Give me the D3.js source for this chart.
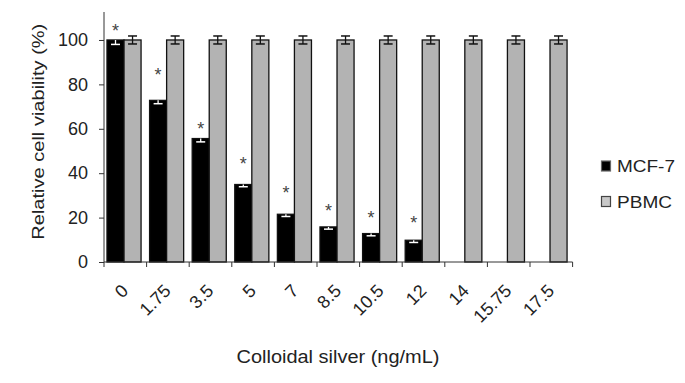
<!DOCTYPE html>
<html>
<head>
<meta charset="utf-8">
<script src="https://cdn.jsdelivr.net/npm/d3@7"></script>
<style>
  body { margin: 0; background: #fff; }
  svg { display: block; font-family: Arial, "Liberation Sans", sans-serif; }
</style>
</head>
<body>
<svg width="685" height="383"></svg>
<script>
// concentrations (ng/mL)
const categories = ["0", "1.75", "3.5", "5", "7", "8.5", "10.5", "12", "14", "15.75", "17.5"];
const seriesNames = ["MCF-7", "PBMC"];
const mcf7 = [100, 72.8, 55.6, 34.9, 21.5, 15.8, 12.8, 9.8, null, null, null];
const mcf7Err = [2, 1.5, 1.5, 1, 1, 1, 1, 1, null, null, null];
const pbmc = [100, 100, 100, 100, 100, 100, 100, 100, 100, 100, 100];
const pbmcErr = [1.8, 1.8, 1.8, 1.8, 1.8, 1.8, 1.8, 1.8, 1.8, 1.8, 1.8];
// level (in %) where the significance asterisk sits above each MCF-7 bar
const starLevel = [106, 86, 62, 46, 33, 25, 22, 19.5, null, null, null];
const yTicks = [0, 20, 40, 60, 80, 100];

const svg = d3.select("svg");
const width = +svg.attr("width");
const height = +svg.attr("height");
svg.append("rect").attr("width", width).attr("height", height).attr("fill", "#fff");

const plotLeft = 104, plotRight = 572.6, plotTop = 12, plotBottom = 262;

const x0 = d3.scaleBand()
  .domain(categories)
  .range([plotLeft, plotRight])
  .paddingInner(0.2)
  .paddingOuter(0.1)
  .align(0.35);
const x1 = d3.scaleBand().domain(seriesNames).range([0, x0.bandwidth()]);
// tick marks sit on category boundaries
const xEdge = d3.scaleLinear().domain([0, categories.length]).range([plotLeft, plotRight]);
const y = d3.scaleLinear().domain([0, 112.6]).range([plotBottom, plotTop]);

const colors = { "MCF-7": "#000", "PBMC": "#b3b3b3" };

const rows = categories.map((c, i) => ({
  cat: c,
  values: [
    { key: "MCF-7", v: mcf7[i], e: mcf7Err[i] },
    { key: "PBMC", v: pbmc[i], e: pbmcErr[i] }
  ],
  star: starLevel[i]
}));

const groups = svg.append("g").selectAll("g")
  .data(rows)
  .enter()
  .append("g")
  .attr("transform", (d) => `translate(${x0(d.cat)},0)`);

groups.selectAll("rect")
  .data((d) => d.values.filter((s) => s.v != null))
  .enter()
  .append("rect")
  .attr("x", (d) => x1(d.key))
  .attr("y", (d) => y(d.v))
  .attr("width", x1.bandwidth())
  .attr("height", (d) => y(0) - y(d.v))
  .attr("fill", (d) => colors[d.key])
  .attr("stroke", "#111")
  .attr("stroke-width", 1.3);

// error bars: MCF-7 only the lower half shows (white inside the black bar)
const capW = 4.5;
groups.each(function (d) {
  const g = d3.select(this);
  d.values.forEach((s) => {
    if (s.v == null) return;
    const cx = x1(s.key) + x1.bandwidth() / 2;
    const col = s.key === "MCF-7" ? "#fff" : "#111";
    const hi = s.key === "MCF-7" ? s.v : s.v + s.e;
    const lo = s.v - s.e;
    g.append("line").attr("x1", cx).attr("x2", cx).attr("y1", y(hi)).attr("y2", y(lo))
      .attr("stroke", col).attr("stroke-width", 1.3);
    g.append("line").attr("x1", cx - capW).attr("x2", cx + capW).attr("y1", y(lo)).attr("y2", y(lo))
      .attr("stroke", col).attr("stroke-width", 1.5);
    if (s.key !== "MCF-7") {
      g.append("line").attr("x1", cx - capW).attr("x2", cx + capW).attr("y1", y(hi)).attr("y2", y(hi))
        .attr("stroke", col).attr("stroke-width", 1.5);
    }
  });
  if (d.star != null) {
    g.append("text")
      .attr("x", x1("MCF-7") + x1.bandwidth() / 2)
      .attr("y", y(d.star) + 10.4)
      .attr("text-anchor", "middle")
      .attr("font-size", 18)
      .attr("fill", "#444")
      .text("*");
  }
});

// y axis
const yAxis = svg.append("g")
  .attr("transform", `translate(${plotLeft},0)`)
  .call(d3.axisLeft(y).tickValues(yTicks).tickSize(5).tickPadding(11).tickSizeOuter(0));
yAxis.select(".domain").attr("d", `M0,${plotTop}V${plotBottom}`).attr("stroke", "#333");
yAxis.selectAll(".tick line").attr("stroke", "#333");
yAxis.selectAll(".tick text").attr("font-size", 18).attr("fill", "#222")
  .attr("font-family", "Arial, 'Liberation Sans', sans-serif");

// x axis
const xAxis = svg.append("g").attr("transform", `translate(0,${plotBottom})`);
xAxis.append("line").attr("x1", plotLeft).attr("x2", plotRight).attr("stroke", "#333");
xAxis.selectAll("line.tk")
  .data(d3.range(categories.length + 1))
  .enter()
  .append("line")
  .attr("class", "tk")
  .attr("x1", (d) => xEdge(d)).attr("x2", (d) => xEdge(d))
  .attr("y1", 0).attr("y2", 5)
  .attr("stroke", "#333");
xAxis.selectAll("text")
  .data(categories)
  .enter()
  .append("text")
  .attr("transform", (d, i) => `translate(${xEdge(i + 0.5) + 4},30) rotate(-45)`)
  .attr("text-anchor", "end")
  .attr("font-size", 18)
  .attr("fill", "#222")
  .text((d) => d);

// axis titles
svg.append("text")
  .attr("x", 338).attr("y", 362.5)
  .attr("text-anchor", "middle")
  .attr("font-size", 17.5)
  .attr("fill", "#222")
  .attr("textLength", 203).attr("lengthAdjust", "spacingAndGlyphs")
  .text("Colloidal silver (ng/mL)");

svg.append("text")
  .attr("transform", "translate(43.5,131.7) rotate(-90)")
  .attr("text-anchor", "middle")
  .attr("font-size", 17)
  .attr("fill", "#222")
  .attr("textLength", 216).attr("lengthAdjust", "spacingAndGlyphs")
  .text("Relative cell viability (%)");

// legend
const legend = svg.append("g");
const legendFill = { "MCF-7": "#000", "PBMC": "#c8c8c8" };
const legendBorder = { "MCF-7": "#666", "PBMC": "#444" };
const legendLen = { "MCF-7": 58, "PBMC": 55 };
seriesNames.forEach((name, i) => {
  const yy = 161 + i * 35.5;
  legend.append("rect")
    .attr("x", 601.5).attr("y", yy).attr("width", 9).attr("height", 10)
    .attr("fill", legendFill[name]).attr("stroke", legendBorder[name]).attr("stroke-width", 1.2);
  legend.append("text")
    .attr("x", 617).attr("y", yy + 11.3)
    .attr("font-size", 16)
    .attr("fill", "#222")
    .attr("textLength", legendLen[name]).attr("lengthAdjust", "spacingAndGlyphs")
    .text(name);
});
</script>
</body>
</html>
